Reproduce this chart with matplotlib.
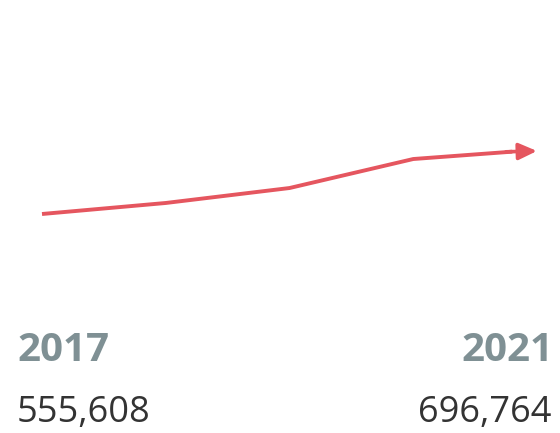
import matplotlib.pyplot as plt

years = [2017, 2018, 2019, 2020, 2021]
totals = [555608, 580300, 613800, 678800, 696764]

line_color = '#e5565f'
year_color = '#7f9094'
value_color = '#333333'

W, H = 560, 433
fig = plt.figure(figsize=(W / 100, H / 100), dpi=100)
fig.patch.set_facecolor('white')

# axes box runs from the first to the last point, top = max, bottom = min
x0, x1 = 42, 537
ytop, ybot = 151, 214
ax = fig.add_axes([x0 / W, (H - ybot) / H, (x1 - x0) / W, (ybot - ytop) / H])
ax.set_xlim(years[0], years[-1])
ax.set_ylim(min(totals), max(totals))
ax.axis('off')

ax.plot(years[:-1] + [years[-1] - 0.2], totals[:-1] + [totals[-1] - 1500],
        color=line_color, lw=2.8, solid_capstyle='butt', solid_joinstyle='round',
        clip_on=False)
ax.annotate('', xy=(years[-1], totals[-1]), xytext=(years[-1] - 0.25, totals[-1] - 1800),
            arrowprops=dict(arrowstyle='-|>,head_length=1.1,head_width=0.5',
                            color=line_color, lw=2.6, shrinkA=0, shrinkB=0),
            annotation_clip=False)

font = 'Open Sans'
fig.text(17 / W, (H - 361) / H, str(years[0]), ha='left', va='baseline',
         fontsize=29, fontweight='bold', color=year_color, family=font)
fig.text(553 / W, (H - 361) / H, str(years[-1]), ha='right', va='baseline',
         fontsize=29, fontweight='bold', color=year_color, family=font)
fig.text(17 / W, (H - 422) / H, f'{totals[0]:,}', ha='left', va='baseline',
         fontsize=26, color=value_color, family=font)
fig.text(552 / W, (H - 422) / H, f'{totals[-1]:,}', ha='right', va='baseline',
         fontsize=26, color=value_color, family=font)

fig.savefig('out.png', dpi=100, facecolor='white')
